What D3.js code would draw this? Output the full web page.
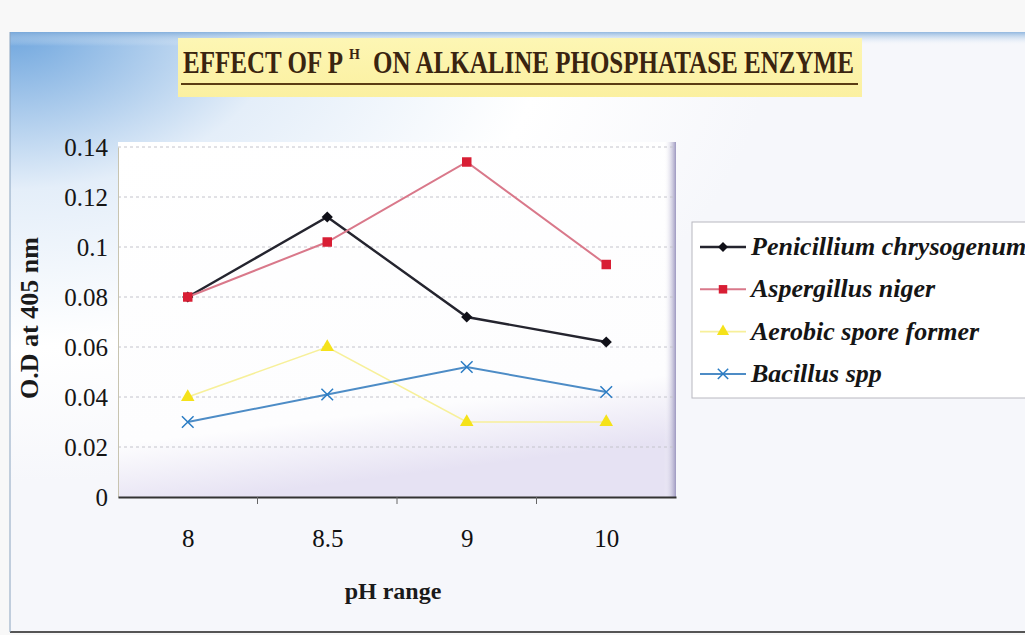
<!DOCTYPE html>
<html lang="en">
<head>
    <meta charset="UTF-8">
    <script src="https://d3js.org/d3.v7.min.js"></script>
    <style>
        body {margin: 0; background-color: #f7f7f7}
        svg {display: block;}
    </style>
</head>
<body>
<svg class="chart"></svg>
<script type="text/javascript">
    // values
    let ph_range = ['8', '8.5', '9', '10'];
    let penicillium = [0.08, 0.112, 0.072, 0.062];
    let aspergillus = [0.08, 0.102, 0.134, 0.093];
    let aerobic = [0.04, 0.06, 0.03, 0.03];
    let bacillus = [0.03, 0.041, 0.052, 0.042];
    let series_names = ['Penicillium chrysogenum', 'Aspergillus niger', 'Aerobic spore former', 'Bacillus spp'];
    let y_ticks = [0, 0.02, 0.04, 0.06, 0.08, 0.1, 0.12, 0.14];
    let y_tick_labels = ['0', '0.02', '0.04', '0.06', '0.08', '0.1', '0.12', '0.14'];

    let chart_width = 1025, chart_height = 635;
    let plot_left = 118, plot_right = 676, plot_top = 147, plot_bottom = 497;

    let series = [
        {name: series_names[0], values: penicillium, line: '#24242e', mark: '#101018', shape: d3.symbolDiamond2, lw: 2.4, size: 80},
        {name: series_names[1], values: aspergillus, line: '#d9788a', mark: '#d81e34', shape: d3.symbolSquare, lw: 2, size: 90},
        {name: series_names[2], values: aerobic, line: '#f7f09a', mark: '#f5e21a', shape: d3.symbolTriangle, lw: 1.6, size: 80},
        {name: series_names[3], values: bacillus, line: '#4d8cc6', mark: '#2a7cc4', shape: d3.symbolX, lw: 2, size: 90}
    ];

    var svg = d3.select('.chart').attr('width', chart_width).attr('height', chart_height);
    var defs = svg.append('defs');

    // photo background: bluish top-left fading to white
    var bg = defs.append('radialGradient').attr('id', 'bg')
        .attr('cx', 0).attr('cy', 0).attr('r', 0.75);
    bg.append('stop').attr('offset', '0%').attr('stop-color', '#6fa6de');
    bg.append('stop').attr('offset', '35%').attr('stop-color', '#e4eef9');
    bg.append('stop').attr('offset', '70%').attr('stop-color', '#ffffff');
    bg.append('stop').attr('offset', '100%').attr('stop-color', '#f6f7fb');

    var topband = defs.append('linearGradient').attr('id', 'topband')
        .attr('x1', 0).attr('y1', 0).attr('x2', 0).attr('y2', 1);
    topband.append('stop').attr('offset', '0%').attr('stop-color', '#7aa8d8');
    topband.append('stop').attr('offset', '100%').attr('stop-color', '#ffffff').attr('stop-opacity', 0);

    var plotbg = defs.append('linearGradient').attr('id', 'plotbg')
        .attr('x1', 0).attr('y1', 0).attr('x2', 0.2).attr('y2', 1);
    plotbg.append('stop').attr('offset', '0%').attr('stop-color', '#ffffff');
    plotbg.append('stop').attr('offset', '82%').attr('stop-color', '#fdfdfe');
    plotbg.append('stop').attr('offset', '100%').attr('stop-color', '#e6e2f3');

    var shade = defs.append('linearGradient').attr('id', 'shade')
        .attr('x1', 0).attr('y1', 0).attr('x2', 1).attr('y2', 0);
    shade.append('stop').attr('offset', '0%').attr('stop-color', '#ffffff').attr('stop-opacity', 0);
    shade.append('stop').attr('offset', '100%').attr('stop-color', '#9d98c0');

    var yellow = defs.append('linearGradient').attr('id', 'yellow')
        .attr('x1', 0).attr('y1', 0).attr('x2', 0).attr('y2', 1);
    yellow.append('stop').attr('offset', '0%').attr('stop-color', '#fdf6b4');
    yellow.append('stop').attr('offset', '100%').attr('stop-color', '#fbf0a0');

    svg.append('rect').attr('width', chart_width).attr('height', chart_height).attr('fill', '#f8f8f8');
    svg.append('rect').attr('x', 10).attr('y', 32).attr('width', chart_width - 10).attr('height', 600)
        .attr('fill', 'url(#bg)');
    svg.append('rect').attr('x', 10).attr('y', 32).attr('width', chart_width - 10).attr('height', 14)
        .attr('fill', 'url(#topband)').attr('opacity', 0.8);
    svg.append('line').attr('x1', 10).attr('x2', chart_width).attr('y1', 632).attr('y2', 632)
        .attr('stroke', '#555').attr('stroke-width', 2);
    svg.append('line').attr('x1', 10).attr('x2', 10).attr('y1', 32).attr('y2', 632)
        .attr('stroke', '#8aa4c0').attr('stroke-width', 1);

    // title block; the condensed caps are squeezed with a horizontal scale
    svg.append('rect').attr('x', 178).attr('y', 38).attr('width', 684).attr('height', 59)
        .attr('fill', 'url(#yellow)');
    function squeezed(txt, x, y, size, target) {
        let t = svg.append('text').attr('x', 0).attr('y', 0)
            .attr('font-family', 'Liberation Serif').attr('font-weight', 'bold').attr('font-size', size)
            .attr('fill', '#3a2410').text(txt);
        let w = t.node().getComputedTextLength();
        t.attr('transform', 'translate(' + x + ',' + y + ') scale(' + (target / w) + ',1)');
        return t;
    }
    squeezed('EFFECT OF P', 183, 73, 32, 160);
    svg.append('text').attr('x', 349).attr('y', 59)
        .attr('font-family', 'Liberation Serif').attr('font-weight', 'bold').attr('font-size', 14)
        .attr('fill', '#3a2410').text('H');
    squeezed('ON ALKALINE PHOSPHATASE ENZYME', 373, 73, 32, 481);
    svg.append('line').attr('x1', 181).attr('x2', 858).attr('y1', 84).attr('y2', 84)
        .attr('stroke', '#5a3c12').attr('stroke-width', 2);

    // plot area
    svg.append('rect').attr('x', plot_left).attr('y', plot_top - 5)
        .attr('width', plot_right - plot_left).attr('height', plot_bottom - plot_top + 5)
        .attr('fill', 'url(#plotbg)');
    svg.append('rect').attr('x', plot_right - 12).attr('y', plot_top - 5)
        .attr('width', 12).attr('height', plot_bottom - plot_top + 5)
        .attr('fill', 'url(#shade)');

    var x_range = d3.scalePoint().domain(ph_range).range([plot_left, plot_right]).padding(0.5);
    var x_band = d3.scaleBand().domain(ph_range).range([plot_left, plot_right]);
    var y_range = d3.scaleLinear().domain([0, 0.14]).range([plot_bottom, plot_top]);

    // gridlines
    svg.append('g').selectAll('line').data(y_ticks.slice(1)).enter().append('line')
        .attr('x1', plot_left).attr('x2', plot_right)
        .attr('y1', d => y_range(d)).attr('y2', d => y_range(d))
        .attr('stroke', '#c4c4cc').attr('stroke-width', 1).attr('stroke-dasharray', '3,3');

    // y axis
    var y_axis = svg.append('g').attr('transform', 'translate(' + plot_left + ',0)')
        .call(d3.axisLeft(y_range).tickValues(y_ticks).tickSize(0).tickPadding(10)
            .tickFormat((d, i) => y_tick_labels[i]));
    y_axis.select('.domain').attr('stroke', '#c8c4b0');
    y_axis.selectAll('text').attr('font-family', 'Liberation Serif').attr('font-size', 25)
        .attr('fill', '#151515');

    // x axis
    var x_axis = svg.append('g').attr('transform', 'translate(0,' + plot_bottom + ')')
        .call(d3.axisBottom(x_range).tickSize(0).tickPadding(32));
    x_axis.select('.domain').attr('stroke', '#333').attr('stroke-width', 2);
    x_axis.selectAll('text').attr('font-family', 'Liberation Serif').attr('font-size', 25)
        .attr('fill', '#111');
    svg.append('g').selectAll('line').data(ph_range.slice(1)).enter().append('line')
        .attr('x1', d => x_band(d)).attr('x2', d => x_band(d))
        .attr('y1', plot_bottom).attr('y2', plot_bottom + 7)
        .attr('stroke', '#666').attr('stroke-width', 1);

    // axis titles
    svg.append('text').attr('transform', 'translate(38,318) rotate(-90)')
        .attr('text-anchor', 'middle')
        .attr('font-family', 'Liberation Serif').attr('font-weight', 'bold').attr('font-size', 26)
        .attr('fill', '#1a1a1a').text('O.D at 405 nm');
    svg.append('text').attr('x', 393).attr('y', 599)
        .attr('text-anchor', 'middle')
        .attr('font-family', 'Liberation Serif').attr('font-weight', 'bold').attr('font-size', 24)
        .attr('fill', '#1a1a1a').text('pH range');

    // lines and markers
    var line = d3.line().x((d, i) => x_range(ph_range[i])).y(d => y_range(d));
    series.forEach(s => {
        svg.append('path').datum(s.values).attr('d', line)
            .attr('fill', 'none').attr('stroke', s.line).attr('stroke-width', s.lw);
    });
    series.forEach(s => {
        svg.append('g').selectAll('path').data(s.values).enter().append('path')
            .attr('transform', (d, i) => 'translate(' + x_range(ph_range[i]) + ',' + y_range(d) + ')')
            .attr('d', d3.symbol().type(s.shape).size(s.size))
            .attr('fill', s.mark).attr('stroke', s.shape === d3.symbolX ? s.mark : 'none')
            .attr('stroke-width', 1.5);
    });

    // legend
    svg.append('rect').attr('x', 692).attr('y', 222).attr('width', 345).attr('height', 176)
        .attr('fill', '#ffffff').attr('stroke', '#b8b8c0').attr('stroke-width', 1);
    var legend = svg.append('g').selectAll('g').data(series).enter().append('g')
        .attr('transform', (d, i) => 'translate(0,' + (247 + i * 42.3) + ')');
    legend.append('line').attr('x1', 700).attr('x2', 746).attr('y1', 0).attr('y2', 0)
        .attr('stroke', d => d.line).attr('stroke-width', d => d.lw);
    legend.append('path').attr('transform', 'translate(723,0)')
        .attr('d', d => d3.symbol().type(d.shape).size(d.size * 0.8)())
        .attr('fill', d => d.mark).attr('stroke', d => d.shape === d3.symbolX ? d.mark : 'none')
        .attr('stroke-width', 1.5);
    legend.append('text').attr('x', 751).attr('y', 8)
        .attr('font-family', 'Liberation Serif').attr('font-weight', 'bold').attr('font-style', 'italic')
        .attr('font-size', 26).attr('fill', '#151515')
        .text(d => d.name);
</script>
</body>
</html>
